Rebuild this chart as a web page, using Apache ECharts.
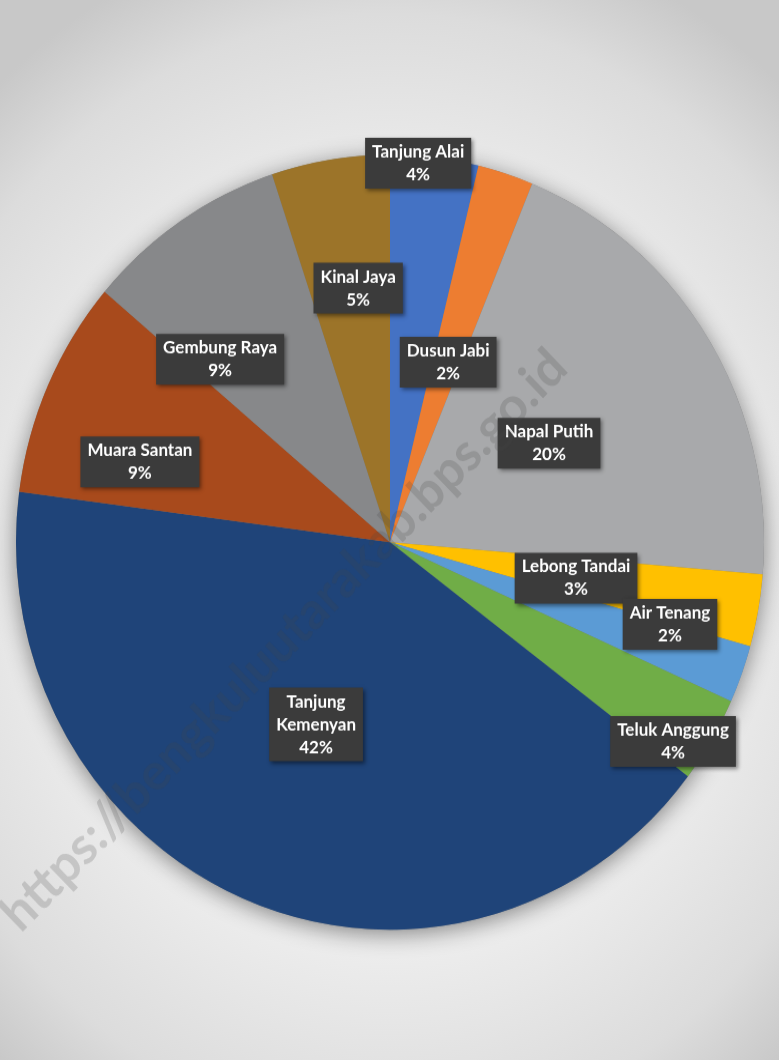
<!DOCTYPE html>
<html>
<head>
<meta charset="utf-8">
<script src="https://cdn.jsdelivr.net/npm/echarts@6/dist/echarts.min.js"></script>
<style>
  html, body { margin: 0; padding: 0; width: 779px; height: 1060px; overflow: hidden; }
  body {
    background: radial-gradient(ellipse 75% 62% at 50% 54%, #f6f6f6 0%, #eeeeee 55%, #dcdcdc 85%, #c8c8c8 100%);
  }
  #chart { position: absolute; left: 0; top: 0; width: 779px; height: 1023px; transform: scaleY(1.0362); transform-origin: 0 0; }
</style>
</head>
<body>
<div id="chart"></div>
<script>
// ---- data ----
const categories = ['Tanjung Alai', 'Dusun Jabi', 'Napal Putih', 'Lebong Tandai', 'Air Tenang',
                    'Teluk Anggung', 'Tanjung Kemenyan', 'Muara Santan', 'Gembung Raya', 'Kinal Jaya'];
const values = [3.8, 2.4, 20.1, 3.0, 2.4, 3.6, 41.7, 9.1, 8.7, 5.1];
const watermarkText = 'https://bengkuluutarakab.bps.go.id';

// ---- styling / layout ----
const colors = ['#4472C4', '#ED7D31', '#A8A9AB', '#FFC000', '#5B9BD5',
                '#70AD47', '#1F4479', '#A84A1C', '#87888A', '#9C7429'];
const CX = 390, CY = 523.2, R = 374;
// label placement: [angle in degrees clockwise from 12 o'clock, fraction of radius]
const labelPlacement = [[4.4, 0.981], [18.5, 0.49], [59.0, 0.496], [100.6, 0.506], [105.8, 0.778],
                        [124.2, 0.915], [202.8, 0.51], [287.2, 0.70], [316.1, 0.655], [352.6, 0.661]];
const wrapNames = { 'Tanjung Kemenyan': 'Tanjung\nKemenyan' };

const chart = echarts.init(document.getElementById('chart'), null, { renderer: 'canvas' });
const total = values.reduce((a, b) => a + b, 0);

chart.setOption({
  backgroundColor: 'transparent',
  animation: false,
  graphic: [{
    type: 'text',
    x: 284, y: 618,
    rotation: 44.7 * Math.PI / 180,
    z: 50,
    silent: true,
    style: {
      text: watermarkText,
      font: 'bold 50px Lato, "Open Sans", sans-serif',
      fill: 'rgba(70,70,70,0.2)',
      align: 'center',
      verticalAlign: 'middle'
    }
  }],
  series: [
    {
      type: 'pie',
      silent: true,
      center: [CX, CY],
      radius: R,
      z: 1,
      label: { show: false },
      labelLine: { show: false },
      data: [{ value: total, itemStyle: { color: '#7a7a7a', shadowBlur: 22, shadowColor: 'rgba(0,0,0,0.45)', shadowOffsetY: 4 } }]
    },
    {
      type: 'pie',
      center: [CX, CY],
      radius: R,
      startAngle: 90,
      clockwise: true,
      z: 2,
      percentPrecision: 0,
      avoidLabelOverlap: false,
      itemStyle: { borderWidth: 0 },
      labelLine: { show: false },
      label: {
        show: true,
        position: 'inside',
        formatter: p => (wrapNames[p.name] || p.name) + '\n' + p.percent + '%',
        color: '#ffffff',
        fontFamily: 'Lato, "Open Sans", sans-serif',
        fontWeight: 'bold',
        fontSize: 17,
        lineHeight: 22,
        align: 'center',
        backgroundColor: '#3b3b3b',
        padding: [3, 7, 2, 7],
        shadowColor: 'rgba(0,0,0,0.45)',
        shadowBlur: 4,
        shadowOffsetX: 2,
        shadowOffsetY: 2
      },
      labelLayout: function (p) {
        const pl = labelPlacement[p.dataIndex];
        const a = pl[0] * Math.PI / 180;
        return {
          x: CX + pl[1] * R * Math.sin(a),
          y: CY - pl[1] * R * Math.cos(a),
          align: 'center',
          verticalAlign: 'middle'
        };
      },
      data: categories.map((c, i) => ({ name: c, value: values[i], itemStyle: { color: colors[i] } }))
    }
  ]
});
</script>
</body>
</html>
